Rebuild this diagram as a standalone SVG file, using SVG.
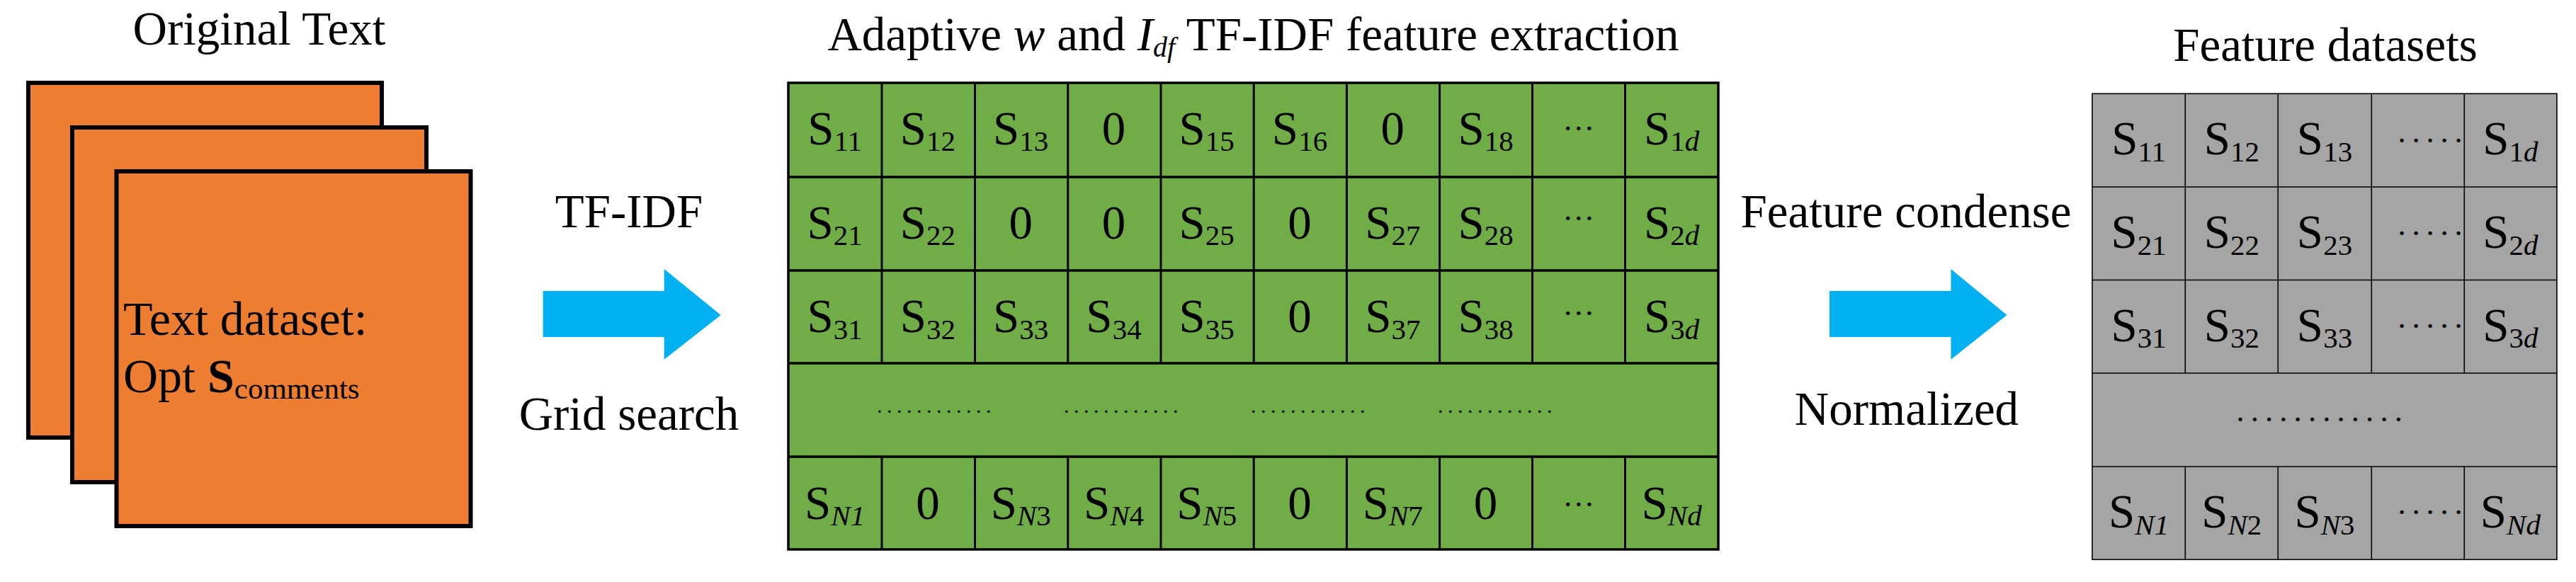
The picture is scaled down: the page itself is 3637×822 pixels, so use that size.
<svg xmlns="http://www.w3.org/2000/svg" width="3637" height="822" viewBox="0 0 3637 822">
<style>
.t{font-family:"Liberation Serif","Times New Roman",serif;font-size:67px;fill:#000}
.c{text-anchor:middle}
.s{font-size:41px}
.i{font-style:italic}
.b{font-weight:bold}
.doc{fill:#ED7D31;stroke:#000;stroke-width:6}
.gl{stroke:#000;stroke-width:3.5;fill:none}
.gr{stroke:#000;stroke-width:1.6;fill:none}
.arr{fill:#00B0F0}
</style>
<rect width="3637" height="822" fill="#fff"/>

<g id="original-text">
<text class="t c" x="366" y="63">Original Text</text>
<rect class="doc" x="40" y="117" width="499" height="501"/>
<rect class="doc" x="102" y="180" width="500" height="501"/>
<rect class="doc" x="164.5" y="242" width="500" height="501"/>
<text class="t" x="174" y="473" style="font-size:68px">Text dataset:</text>
<text class="t" x="174" y="554" style="font-size:68px">Opt <tspan class="b">S</tspan><tspan style="font-size:43px" dy="9">comments</tspan></text>
</g>

<g id="tfidf-matrix">
<text class="t c" x="1769.5" y="71">Adaptive <tspan class="i">w</tspan> and <tspan class="i">I</tspan><tspan class="i" style="font-size:40px" dy="9">df</tspan><tspan dy="-9"> TF-IDF feature extraction</tspan></text>
<rect x="1113" y="117" width="1313" height="659" fill="#70AD47" stroke="#000" stroke-width="3.5"/>
<path class="gl" d="M1113 250H2426M1113 382H2426M1113 513H2426M1113 645H2426"/>
<path class="gl" style="stroke-width:3" d="M1245 117V513M1376.5 117V513M1507.8 117V513M1639 117V513M1770.2 117V513M1901.4 117V513M2032.6 117V513M2163.5 117V513M2294.5 117V513M1245 645V776M1376.5 645V776M1507.8 645V776M1639 645V776M1770.2 645V776M1901.4 645V776M2032.6 645V776M2163.5 645V776M2294.5 645V776"/>
<g class="t c">
<text x="1178.6" y="203.5">S<tspan class="s" dy="9.5">11</tspan></text>
<text x="1309.9" y="203.5">S<tspan class="s" dy="9.5">12</tspan></text>
<text x="1441.2" y="203.5">S<tspan class="s" dy="9.5">13</tspan></text>
<text x="1572.5" y="203.5">0</text>
<text x="1703.7" y="203.5">S<tspan class="s" dy="9.5">15</tspan></text>
<text x="1835" y="203.5">S<tspan class="s" dy="9.5">16</tspan></text>
<text x="1966.3" y="203.5">0</text>
<text x="2097.6" y="203.5">S<tspan class="s" dy="9.5">18</tspan></text>
<text x="2228.8" y="184" style="font-size:45px">…</text>
<text x="2360.1" y="203.5">S<tspan class="s" dy="9.5">1<tspan class="i">d</tspan></tspan></text>

<text x="1178.6" y="336.5">S<tspan class="s" dy="9.5">21</tspan></text>
<text x="1309.9" y="336.5">S<tspan class="s" dy="9.5">22</tspan></text>
<text x="1441.2" y="336.5">0</text>
<text x="1572.5" y="336.5">0</text>
<text x="1703.7" y="336.5">S<tspan class="s" dy="9.5">25</tspan></text>
<text x="1835" y="336.5">0</text>
<text x="1966.3" y="336.5">S<tspan class="s" dy="9.5">27</tspan></text>
<text x="2097.6" y="336.5">S<tspan class="s" dy="9.5">28</tspan></text>
<text x="2228.8" y="311" style="font-size:45px">…</text>
<text x="2360.1" y="336.5">S<tspan class="s" dy="9.5">2<tspan class="i">d</tspan></tspan></text>

<text x="1178.6" y="469">S<tspan class="s" dy="9.5">31</tspan></text>
<text x="1309.9" y="469">S<tspan class="s" dy="9.5">32</tspan></text>
<text x="1441.2" y="469">S<tspan class="s" dy="9.5">33</tspan></text>
<text x="1572.5" y="469">S<tspan class="s" dy="9.5">34</tspan></text>
<text x="1703.7" y="469">S<tspan class="s" dy="9.5">35</tspan></text>
<text x="1835" y="469">0</text>
<text x="1966.3" y="469">S<tspan class="s" dy="9.5">37</tspan></text>
<text x="2097.6" y="469">S<tspan class="s" dy="9.5">38</tspan></text>
<text x="2228.8" y="445" style="font-size:45px">…</text>
<text x="2360.1" y="469">S<tspan class="s" dy="9.5">3<tspan class="i">d</tspan></tspan></text>

<text x="1178.6" y="732.5">S<tspan class="s i" dy="9.5">N1</tspan></text>
<text x="1309.9" y="732.5">0</text>
<text x="1441.2" y="732.5">S<tspan class="s" dy="9.5"><tspan class="i">N</tspan>3</tspan></text>
<text x="1572.5" y="732.5">S<tspan class="s" dy="9.5"><tspan class="i">N</tspan>4</tspan></text>
<text x="1703.7" y="732.5">S<tspan class="s" dy="9.5"><tspan class="i">N</tspan>5</tspan></text>
<text x="1835" y="732.5">0</text>
<text x="1966.3" y="732.5">S<tspan class="s" dy="9.5"><tspan class="i">N</tspan>7</tspan></text>
<text x="2097.6" y="732.5">0</text>
<text x="2228.8" y="715" style="font-size:45px">…</text>
<text x="2360.1" y="732.5">S<tspan class="s i" dy="9.5">Nd</tspan></text>
</g>
<g class="t" style="font-size:30px;letter-spacing:6.5px">
<text x="1238" y="583">............</text>
<text x="1502" y="583">............</text>
<text x="1766" y="583">............</text>
<text x="2030" y="583">............</text>
</g>
</g>

<g id="feature-datasets">
<text class="t c" x="3283" y="86">Feature datasets</text>
<rect x="2954" y="132.3" width="656" height="658" fill="#A5A5A5" stroke="#000" stroke-width="1.6"/>
<path class="gr" d="M2954 264H3610M2954 395.5H3610M2954 527H3610M2954 659H3610M3085.3 132.3V527M3216.3 132.3V527M3348.3 132.3V527M3479.3 132.3V527M3085.3 659V790M3216.3 659V790M3348.3 659V790M3479.3 659V790"/>
<g class="t c">
<text x="3019.6" y="218.3">S<tspan class="s" dy="9.5">11</tspan></text>
<text x="3150.8" y="218.3">S<tspan class="s" dy="9.5">12</tspan></text>
<text x="3282" y="218.3">S<tspan class="s" dy="9.5">13</tspan></text>
<text x="3544.4" y="218.3">S<tspan class="s" dy="9.5">1<tspan class="i">d</tspan></tspan></text>
<text x="3019.6" y="350">S<tspan class="s" dy="9.5">21</tspan></text>
<text x="3150.8" y="350">S<tspan class="s" dy="9.5">22</tspan></text>
<text x="3282" y="350">S<tspan class="s" dy="9.5">23</tspan></text>
<text x="3544.4" y="350">S<tspan class="s" dy="9.5">2<tspan class="i">d</tspan></tspan></text>
<text x="3019.6" y="481.5">S<tspan class="s" dy="9.5">31</tspan></text>
<text x="3150.8" y="481.5">S<tspan class="s" dy="9.5">32</tspan></text>
<text x="3282" y="481.5">S<tspan class="s" dy="9.5">33</tspan></text>
<text x="3544.4" y="481.5">S<tspan class="s" dy="9.5">3<tspan class="i">d</tspan></tspan></text>
<text x="3019.6" y="745">S<tspan class="s i" dy="9.5">N1</tspan></text>
<text x="3150.8" y="745">S<tspan class="s" dy="9.5"><tspan class="i">N</tspan>2</tspan></text>
<text x="3282" y="745">S<tspan class="s" dy="9.5"><tspan class="i">N</tspan>3</tspan></text>
<text x="3544.4" y="745">S<tspan class="s i" dy="9.5">Nd</tspan></text>
</g>
<g class="t" style="font-size:45px;letter-spacing:8.75px">
<text x="3385.4" y="201">.....</text>
<text x="3385.4" y="332">.....</text>
<text x="3385.4" y="463">.....</text>
<text x="3385.4" y="726">.....</text>
<text x="3157.4" y="594.5" style="letter-spacing:9.05px">............</text>
</g>
</g>

<g id="connectors">
<polygon class="arr" points="766.7,411 937.7,411 937.7,380 1017.7,445 937.7,507.7 937.7,476 766.7,476"/>
<text class="t c" x="888" y="321">TF-IDF</text>
<text class="t c" x="888" y="606.7">Grid search</text>
<polygon class="arr" points="2583,411 2754.5,411 2754.5,380 2833.5,445 2754.5,507.7 2754.5,476 2583,476"/>
<text class="t c" x="2691" y="320.7">Feature condense</text>
<text class="t c" x="2692" y="600">Normalized</text>
</g>
</svg>
